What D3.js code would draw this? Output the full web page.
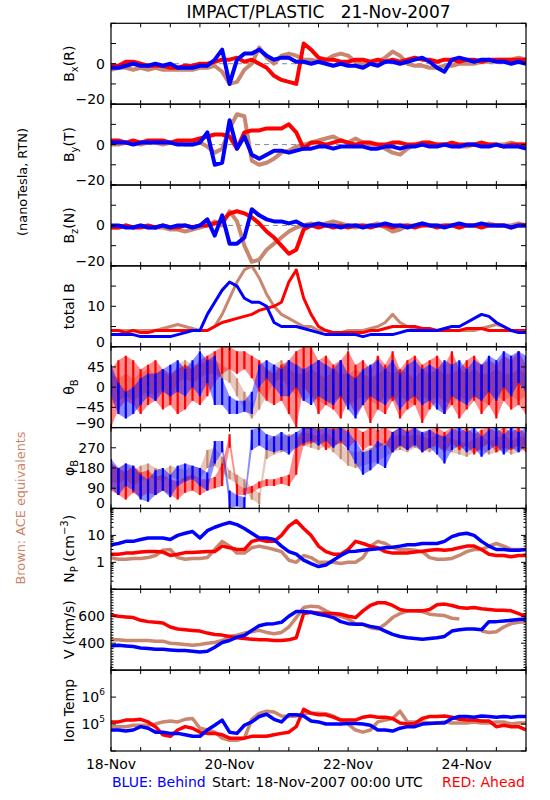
<!DOCTYPE html>
<html><head><meta charset="utf-8">
<script src="https://cdn.jsdelivr.net/npm/d3@7"></script>
<style>body{margin:0;background:#fff}svg{display:block}text{font-family:"DejaVu Sans",sans-serif}</style>
</head><body><svg id="c" width="550" height="800"></svg>
<script>
// ---------- DATA (sample hours from 18-Nov-2007 00:00 UTC) ----------
const hours = [0,3,6,9,12,15,18,21,24,27,30,33,36,39,42,45,48,51,54,57,60,63,66,69,72,75,78,81,84,87,90,93,96,99,102,105,108,111,114,117,120,123,126,129,132,135,138,141,144,147,150,153,156,159,162,165,168];
const xTickLabels = ["18-Nov","20-Nov","22-Nov","24-Nov"];
const xTickDays = [0,2,4,6];

const bxBehind = [-2,-2,-1,0,-1,-1,0,-1,0,-2,-2,-2,-1,-1,2,7,-10,2,5,5,7,4,2,3,3,1,1,0,1,0,-1,0,-1,-1,-2,0,-1,1,1,0,1,2,3,1,-2,-4,2,3,2,1,2,2,1,1,0,1,0];
const bxAhead  = [-1,-1,1,1,0,-1,-1,-1,-2,-2,-1,-1,0,0,1,2,2,3,1,2,0,-2,-6,-8,-9,-10,10,7,3,2,2,1,1,2,2,1,2,1,2,1,2,3,2,2,1,2,2,1,2,2,1,2,2,2,2,2,2];
const bxAce    = [-3,-2,-2,-3,-2,-3,-2,-3,-3,-3,-3,-3,-2,-2,-1,-4,-10,-9,-3,0,8,3,0,4,5,4,2,2,1,2,4,5,4,1,0,0,1,3,6,4,0,-1,-1,-2,-2,-1,-1,0,0,0,1,1,2,2,2,3,2];

const byBehind = [1,1,1,0,1,1,1,1,1,0,0,0,1,6,-10,-9,12,-2,4,-5,-7,-5,-3,-3,-4,-3,-2,-2,-1,-1,-2,-1,-1,-1,-1,-2,-2,-1,-1,-2,-1,-1,0,-1,-1,0,-1,-1,0,0,-1,-1,0,-1,-1,-1,-2];
const byAhead  = [2,2,1,2,1,2,2,2,1,2,2,2,3,4,5,5,4,-2,6,7,7,8,8,8,10,6,-2,1,1,0,1,2,1,0,1,1,0,0,1,1,0,0,1,1,0,0,1,0,0,0,1,0,0,-1,0,0,0];
const byAce    = [0,0,1,1,0,1,1,0,1,1,0,0,1,-1,-4,-2,8,15,14,-8,-10,-9,-7,-4,-3,-1,0,1,2,3,4,2,1,3,1,0,0,-2,-4,-5,-2,0,0,1,0,0,0,-1,-1,0,1,0,0,0,1,0,0];

const bzBehind = [0,0,-1,-1,0,-1,-1,0,-1,0,0,-1,0,3,-5,5,-9,-9,-6,8,5,3,2,2,1,2,0,0,1,0,0,-1,0,0,-1,0,0,1,0,0,-1,0,1,0,0,-1,0,1,0,0,1,0,0,0,-1,0,0];
const bzAhead  = [-1,-1,0,-1,-1,0,-1,0,-1,-1,0,-1,0,0,1,2,6,7,6,4,1,-3,-6,-10,-14,-12,-2,0,-1,0,-1,0,-1,0,0,-1,0,0,-1,0,0,-1,0,0,-1,0,0,-1,0,0,-1,0,0,0,-1,0,0];
const bzAce    = [-1,-1,0,-1,0,-1,-1,-1,-2,-2,-3,-2,-1,0,2,0,7,2,-10,-18,-17,-12,-9,-6,-3,-1,0,1,0,1,2,1,0,-1,0,0,1,-1,-3,-2,0,0,1,0,0,0,0,-1,0,0,0,1,0,0,0,1,0];

const btBehind = [3,3,3,3,2.5,2.5,2.5,2.5,2.5,3,3.5,4,4,8,11,14,16,15,12,11,11,10,6,5,5,5,4.5,4,3.5,3,3,3,3,3,2.5,3,3,3,3,3.5,4,4,4,4,4,4.5,5,5,6,7,8,7.5,6,5,4,3.5,3.5];
const btAhead  = [4,4,3.5,4,3.5,3.5,4,4,4,4,4,4,4,4,5,6,6.5,7,7.5,8,9,9.5,10,11,16,19,12,8,5,4,3.5,3.5,3.5,3.5,3.5,4,4,4.5,5,5,5,5,4.5,4.5,4,4,4,4,4.5,4.5,4.5,4,4,4,4,4,4];
const btAce    = [4,4,4,4,4,4,4,4.5,5,5.5,5,4.5,4,4,5,8,12,16,19,20,17,13,10,8,7,6,5,5,4,4,3.5,3.5,4,4,4,4.5,5,6,8,6,5,4.5,4.5,4,4,4,4,4,4,4,4.5,5,5.5,5,4,4,4];

const thetaBehindLo = [-20,-60,-70,-60,-40,-20,-30,-10,-20,-10,-20,0,-20,10,-40,-40,-60,-60,-55,-60,0,20,0,-20,-20,0,-30,-40,-20,-30,-40,-20,-50,-70,-40,-20,-30,-40,-20,-50,-30,-20,-40,-30,-50,-60,-20,-30,-40,-20,-30,-10,-30,0,-20,10,-10];
const thetaBehindHi = [50,10,-10,0,20,30,30,40,50,60,40,60,80,60,70,20,-20,-30,-30,-10,50,60,50,40,60,50,40,50,60,50,40,60,30,20,40,50,60,40,60,30,50,60,40,50,40,60,50,60,40,60,50,70,60,80,70,80,70];
const thetaAheadLo  = [-90,-50,-30,-40,-60,-40,-30,-50,-40,-60,-50,-30,-40,-20,10,30,40,30,40,20,-10,-30,-40,-30,-60,-90,0,-20,-60,-40,-50,-70,-30,-60,-40,-80,-50,-60,-30,-70,-50,-40,-80,-50,-30,-60,-40,-70,-50,-30,-60,-40,-70,-30,-50,-40,-60];
const thetaAheadHi  = [40,60,70,60,40,50,60,40,30,40,50,40,60,70,80,90,90,80,80,70,60,40,30,50,60,80,90,90,60,70,50,60,80,50,60,40,70,50,80,40,60,70,50,60,70,50,80,40,60,70,50,60,50,70,60,80,50];
const thetaAceLo    = [-40,-30,-20,-30,-20,-10,-20,0,-30,10,20,10,20,30,30,20,10,-20,-50,-70,-50,-20,10,20,0,-20,-30,-20,-30,-40,-30,-20,-40,-30,-20,-30,-40,-20,-30,-20,-30,-40,-20,-30,-20,-30,-40,-20,-30,-20,-30,-40,-20,-30,-20,-30,-20];
const thetaAceHi    = [30,20,30,20,30,40,30,40,20,50,60,50,50,60,60,50,40,20,-10,-40,-10,30,50,60,40,30,30,40,30,20,40,30,30,40,30,20,30,40,30,40,30,20,40,30,40,30,30,40,30,40,30,30,40,30,30,40,30];

const phiBehindLo = [90,60,100,80,40,30,60,80,50,100,120,130,100,80,200,250,0,10,0,260,280,260,250,260,240,270,290,300,280,300,270,300,260,200,150,170,200,180,250,280,260,280,250,270,240,200,260,280,250,270,230,260,280,240,270,250,280];
const phiBehindHi = [220,180,200,190,150,130,170,180,150,190,200,190,180,160,300,300,80,60,50,350,360,330,320,340,320,340,360,360,350,360,350,360,340,300,250,260,300,280,340,360,340,360,340,350,330,320,350,360,340,360,320,350,360,330,360,340,360];
const phiAheadLo  = [80,60,40,70,50,70,60,80,60,40,70,80,60,80,90,100,270,60,60,70,90,100,100,110,100,150,280,290,300,260,280,290,270,300,260,280,270,290,250,280,260,290,250,270,280,250,290,260,280,240,270,290,250,270,260,280,250];
const phiAheadHi  = [200,180,160,190,160,170,140,150,130,120,140,150,130,130,140,200,330,110,90,100,120,130,130,140,150,300,360,360,360,350,360,360,350,360,340,360,350,360,340,360,350,360,330,350,360,340,360,340,360,330,350,360,340,360,340,360,330];
const phiAceLo    = [120,110,130,100,120,140,130,120,140,130,120,140,130,180,190,160,130,110,90,40,20,220,240,250,260,270,280,270,260,280,250,220,190,180,190,200,210,230,250,260,250,270,260,250,270,260,250,240,230,250,260,240,250,260,240,250,260];
const phiAceHi    = [200,180,200,170,190,200,180,170,190,180,170,190,180,260,270,230,170,150,130,90,70,300,320,320,330,330,340,330,320,340,310,290,260,250,260,270,280,300,320,330,320,330,320,310,330,320,310,300,290,310,320,300,310,330,300,320,320];

const npBehind = [4.5,5,6,6,7,8,8,8,7,10,12,14,8,15,20,25,30,25,18,12,8,8,7,4,2.5,2,1.2,0.9,0.7,0.8,1.2,1.8,2.5,2.6,2.8,3,3.2,3.5,3.6,4,4.5,4.5,5,5,5,6,9,11,12,10,6,4,3,3,2.8,2.8,3];
const npAhead  = [2,2,2.2,2.2,2.4,2.5,2.5,2.4,1.8,2,2.3,2.3,2.4,2.5,2.5,4,3.5,3,3,6,7,6,6,10,22,35,18,10,4,2.5,2,2,3,6,5,4,3.5,2.5,2.2,2.2,2.2,2.4,2.6,2.8,3,2.8,3,3.5,4,4,3,2,1.8,1.8,1.6,1.8,1.8];
const npAce    = [1.5,1.3,1.3,1.4,1.4,1.5,1.8,2.8,3,1.5,1.3,1.4,1.4,1.5,3,6,4,2.2,2.2,3.5,4,3.5,3,2.5,1.2,1,1.8,1.5,1,1,1,0.9,1,1,1.5,4,6,5,3.5,3,3,2.8,2.5,1.5,1.3,1.3,1.4,1.8,2.5,3,3,4,5,4,3,3,3];

const vAhead  = [610,600,595,590,570,560,555,550,520,505,500,495,490,475,465,460,450,440,435,430,425,425,420,420,425,440,620,630,625,620,620,615,600,590,640,680,700,700,680,650,640,640,640,650,685,690,680,665,660,665,655,650,645,645,640,620,600];
const vBehind = [380,385,380,375,365,360,355,355,350,345,345,340,335,340,370,405,420,445,457,495,530,543,545,555,600,635,635,630,615,605,590,560,545,540,540,525,515,490,465,450,440,435,430,435,440,450,490,500,505,505,500,560,560,565,570,575,580];
const vAce    = [425,425,420,420,420,420,415,415,400,395,390,385,390,400,405,420,450,460,475,485,495,480,470,480,520,590,665,675,670,640,615,600,580,545,540,515,505,540,590,620,640,640,635,615,610,605,585,580,null,null,490,480,485,520,545,555,560];

const tBehind = [6e4,6e4,5.5e4,6e4,8e4,7e4,5e4,5e4,4.5e4,4.5e4,4e4,3.5e4,3.5e4,6e4,9e4,1.4e5,5e4,4.5e4,9e4,1.2e5,1.9e5,2.3e5,1.5e5,1.2e5,2.2e5,2.2e5,2e5,1.3e5,1.2e5,1e5,1e5,1e5,1.05e5,1.05e5,1e5,9e4,6e4,6e4,5.5e4,7e4,8e4,8e4,1e5,1.05e5,1.1e5,1.1e5,1.6e5,1.9e5,1.9e5,1.8e5,2e5,1.9e5,1.8e5,1.9e5,1.8e5,1.9e5,1.9e5];
const tAhead  = [1.2e5,1.2e5,1.4e5,1.4e5,1.5e5,1.2e5,8e4,4e4,3.5e4,6e4,8e4,7e4,5e4,4.5e4,4.5e4,4e4,3e4,3e4,3e4,3.5e4,3.5e4,3.5e4,4e4,4.5e4,5e4,8e4,3.5e5,2.5e5,2.2e5,2.2e5,1.8e5,1.4e5,1.4e5,1.4e5,1.8e5,2e5,1.8e5,1.8e5,1.6e5,1.1e5,1e5,1.05e5,1.6e5,1.9e5,1.9e5,2e5,1.8e5,1.5e5,1.4e5,1.4e5,1.3e5,1.3e5,8e4,9e4,8e4,8e4,6e4];
const tAce    = [8e4,8e4,8e4,9e4,9e4,9e4,1e5,1.2e5,1.3e5,1.2e5,1.5e5,1.6e5,7e4,6e4,5e4,3e4,2.5e4,2.5e4,3e4,1.5e5,2.5e5,3e5,2.8e5,2e5,1.9e5,2e5,2.5e5,2.5e5,2.5e5,2.4e5,2e5,1.4e5,1e5,6e4,5e4,6e4,1.2e5,1.4e5,1.6e5,3e5,1.2e5,1.2e5,1.2e5,1.1e5,1.1e5,1.2e5,1.1e5,1.1e5,1.1e5,1.2e5,1.1e5,1.1e5,1.2e5,1.2e5,1e5,1.1e5,1.1e5];

// ---------- LAYOUT / STYLE ----------
const COL = {red:"#ff0000", blue:"#0000ff", brown:"#c8876e"};
const L = 111, R = 526, TOP = 23.3, BOT = 751, NP = 9, PH = (BOT - TOP) / NP;
const T0 = Date.UTC(2007, 10, 18);
const tAt = h => new Date(T0 + h * 3600e3);
const x = d3.scaleUtc().domain([tAt(0), tAt(168)]).range([L, R]);
const svg = d3.select("#c");
const fmt = v => v < 0 ? "\u2212" + Math.abs(v) : String(v);

const panels = [
  {lab:[["B",""],["x","sub"],["(R)",""]], type:"lin", dom:[-20,20], ticks:[-20,-10,0,10,20], labels:[0,-20], zero:true, w:4,
   s:[["brown",bxAce],["red",bxAhead],["blue",bxBehind]]},
  {lab:[["B",""],["y","sub"],["(T)",""]], type:"lin", dom:[-20,20], ticks:[-20,-10,0,10,20], labels:[0,-20], zero:true, w:4,
   s:[["brown",byAce],["red",byAhead],["blue",byBehind]]},
  {lab:[["B",""],["z","sub"],["(N)",""]], type:"lin", dom:[-20,20], ticks:[-20,-10,0,10,20], labels:[0,-20], zero:true, w:4,
   s:[["brown",bzAce],["red",bzAhead],["blue",bzBehind]]},
  {lab:[["total B",""]], type:"lin", dom:[0,20], ticks:[0,5,10,15,20], labels:[10,0], w:3,
   s:[["brown",btAce],["red",btAhead],["blue",btBehind]]},
  {lab:[["\u03b8",""],["B","sub"]], type:"lin", dom:[-90,90], ticks:[-90,-45,0,45,90], labels:[45,0,-45,-90], range:true,
   s:[["brown",thetaAceLo,thetaAceHi],["red",thetaAheadLo,thetaAheadHi],["blue",thetaBehindLo,thetaBehindHi]]},
  {lab:[["\u03c6",""],["B","sub"]], type:"lin", dom:[0,360], ticks:[0,90,180,270,360], labels:[270,180,90,0], range:true,
   s:[["brown",phiAceLo,phiAceHi],["red",phiAheadLo,phiAheadHi],["blue",phiBehindLo,phiBehindHi]]},
  {lab:[["N",""],["P","sub"],[" (cm",""],["\u22123","sup"],[")",""]], type:"log", dom:[0.1,100], labels:[10,1], w:3.5,
   s:[["brown",npAce],["red",npAhead],["blue",npBehind]]},
  {lab:[["V (km/s)",""]], type:"lin", dom:[200,800], ticks:[200,400,600,800], minor:20, labels:[600,400], w:3.5,
   s:[["brown",vAce],["red",vAhead],["blue",vBehind]]},
  {lab:[["Ion Temp",""]], type:"log", dom:[1e4,1e7], labels:[1e6,1e5], exp:true, nominor:true, w:3.5,
   s:[["brown",tAce],["red",tAhead],["blue",tBehind]]}
];

const defs = svg.append("defs");
const xMinor = d3.utcHour.every(12).range(tAt(0), tAt(168.1));

panels.forEach((p, i) => {
  const top = TOP + i * PH, bot = top + PH;
  const y = (p.type === "log" ? d3.scaleLog() : d3.scaleLinear()).domain(p.dom).range([bot, top]);
  const g = svg.append("g");
  defs.append("clipPath").attr("id", "cp" + i).append("rect")
    .attr("x", L).attr("y", top).attr("width", R - L).attr("height", PH);
  const data = g.append("g").attr("clip-path", `url(#cp${i})`);
  if (p.zero) {
    data.append("line").attr("x1", L).attr("x2", R).attr("y1", y(0)).attr("y2", y(0))
      .attr("stroke", "#888").attr("stroke-width", 1).attr("stroke-dasharray", "5,4");
  }
  p.s.forEach(([c, a, b]) => {
    if (p.range) {
      const pts = hours.map((h, k) => [h, a[k], b[k]]);
      const area = d3.area().x(d => x(tAt(d[0]))).y0(d => y(d[1])).y1(d => y(d[2]));
      data.append("path").datum(pts).attr("d", area).attr("fill", COL[c]).attr("fill-opacity", 0.45);
      data.selectAll(null).data(pts).enter().append("line")
        .attr("x1", d => x(tAt(d[0]))).attr("x2", d => x(tAt(d[0])))
        .attr("y1", d => y(d[1])).attr("y2", d => y(d[2]))
        .attr("stroke", COL[c]).attr("stroke-width", 2.2);
    } else {
      const pts = hours.map((h, k) => [h, a[k]]);
      const line = d3.line().defined(d => d[1] != null).x(d => x(tAt(d[0]))).y(d => y(d[1]));
      data.append("path").datum(pts).attr("d", line).attr("fill", "none")
        .attr("stroke", COL[c]).attr("stroke-width", p.w).attr("stroke-linejoin", "round");
    }
  });
  // frame
  g.append("rect").attr("x", L).attr("y", top).attr("width", R - L).attr("height", PH)
    .attr("fill", "none").attr("stroke", "#000").attr("stroke-width", 1.2);
  // y ticks
  let major, minor = [];
  if (p.type === "log") {
    major = y.ticks().filter(v => Math.abs(Math.log10(v) - Math.round(Math.log10(v))) < 1e-9);
    if (!p.nominor) minor = y.ticks().filter(v => !major.includes(v));
  } else {
    major = p.ticks;
    if (p.minor) minor = d3.range(p.dom[0], p.dom[1] + 1e-9, p.minor).filter(v => !major.includes(v));
  }
  [[L, 1], [R, -1]].forEach(([xx, dir]) => {
    major.forEach(v => g.append("line").attr("x1", xx).attr("x2", xx + dir * 5).attr("y1", y(v)).attr("y2", y(v)).attr("stroke", "#000"));
    minor.forEach(v => g.append("line").attr("x1", xx).attr("x2", xx + dir * 2.5).attr("y1", y(v)).attr("y2", y(v)).attr("stroke", "#000"));
  });
  // x ticks (top and bottom of each panel)
  xMinor.forEach(d => {
    const xx = x(d);
    g.append("line").attr("x1", xx).attr("x2", xx).attr("y1", top).attr("y2", top + 4).attr("stroke", "#000");
    g.append("line").attr("x1", xx).attr("x2", xx).attr("y1", bot).attr("y2", bot - 4).attr("stroke", "#000");
  });
  // y tick labels
  p.labels.forEach(v => {
    let yy = y(v);
    if (Math.abs(yy - bot) < 1) yy -= 5;
    const t = g.append("text").attr("x", 105).attr("y", yy).attr("dy", "0.36em")
      .attr("text-anchor", "end").attr("font-size", 14).attr("fill", "#000");
    if (p.exp) {
      t.append("tspan").text("10");
      t.append("tspan").attr("dy", -7).attr("font-size", 9).text(String(Math.round(Math.log10(v))));
    } else t.text(fmt(v));
  });
  // y axis title
  const cy = (top + bot) / 2;
  const yt = svg.append("text").attr("transform", `translate(74,${cy}) rotate(-90)`)
    .attr("text-anchor", "middle").attr("font-size", 14).attr("fill", "#000");
  let shift = 0;
  p.lab.forEach(([s, k]) => {
    const ts = yt.append("tspan").text(s);
    let d = 0;
    if (k === "sub") { ts.attr("font-size", 10); d = 4; }
    if (k === "sup") { ts.attr("font-size", 10); d = -6; }
    if (d - shift !== 0) ts.attr("dy", d - shift);
    shift = d;
  });
});

// x axis labels
xTickDays.forEach((d, i) => {
  svg.append("text").attr("x", x(tAt(d * 24))).attr("y", 769).attr("text-anchor", "middle")
    .attr("font-size", 14).attr("fill", "#000").text(xTickLabels[i]);
});

// title
svg.append("text").attr("x", (L + R) / 2).attr("y", 18).attr("text-anchor", "middle")
  .attr("font-size", 17).attr("fill", "#000").attr("xml:space", "preserve")
  .text("IMPACT/PLASTIC   21-Nov-2007");

// left side labels
svg.append("text").attr("transform", "translate(27,182) rotate(-90)").attr("text-anchor", "middle")
  .attr("font-size", 13).attr("fill", "#000").attr("textLength", 108).attr("lengthAdjust", "spacingAndGlyphs")
  .text("(nanoTesla, RTN)");
svg.append("text").attr("transform", "translate(25,508) rotate(-90)").attr("text-anchor", "middle")
  .attr("font-size", 13).attr("fill", "#cd8468").attr("textLength", 153).attr("lengthAdjust", "spacingAndGlyphs")
  .text("Brown: ACE equivalents");

// bottom legend
svg.append("text").attr("x", 112).attr("y", 787).attr("font-size", 14).attr("fill", COL.blue).text("BLUE: Behind");
svg.append("text").attr("x", 212).attr("y", 787).attr("font-size", 14).attr("fill", "#000").text("Start: 18-Nov-2007 00:00 UTC");
svg.append("text").attr("x", 525).attr("y", 787).attr("text-anchor", "end").attr("font-size", 14).attr("fill", COL.red).text("RED: Ahead");
</script></body></html>
